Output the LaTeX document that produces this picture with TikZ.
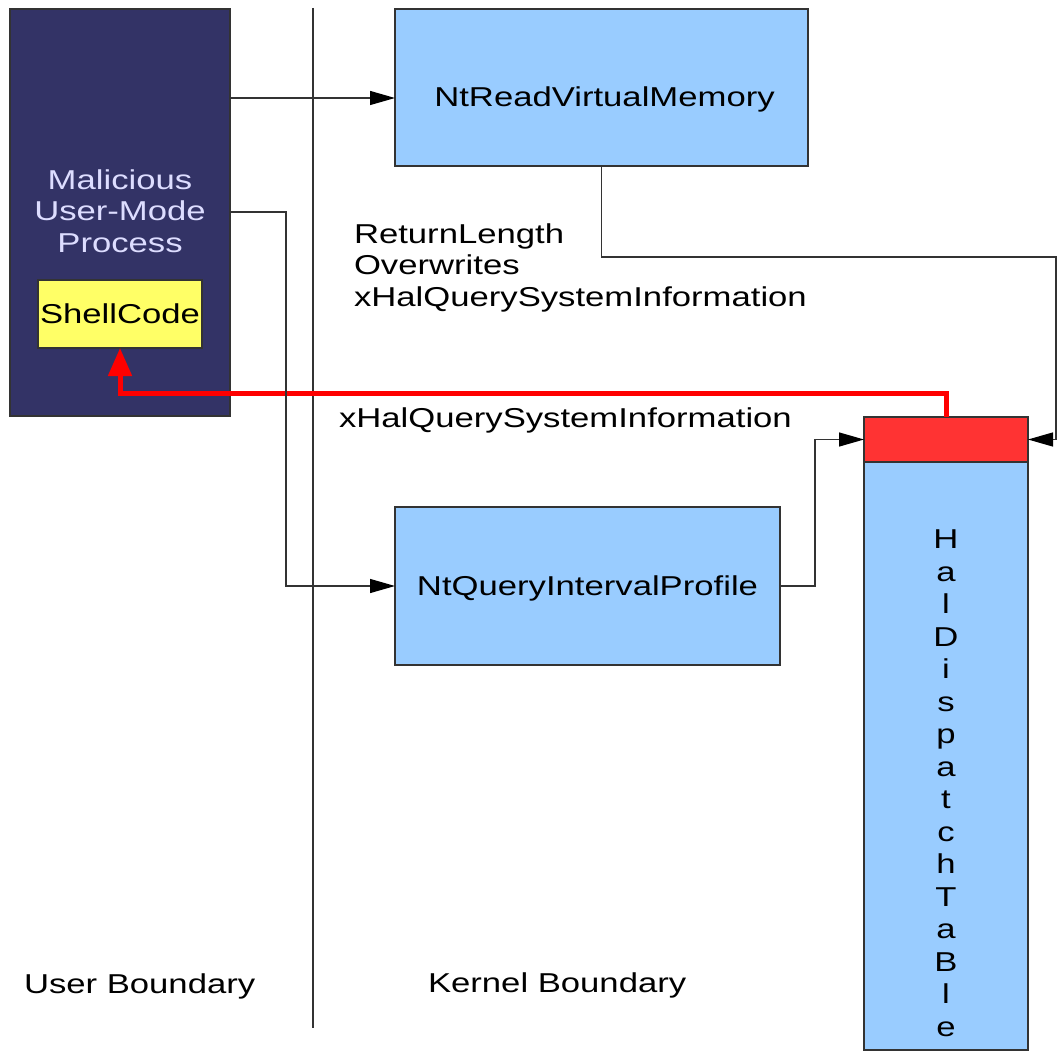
\documentclass[tikz,border=0pt]{standalone}
\usepackage{fontspec}
\setmainfont[FakeStretch=1.27]{Liberation Sans}
\usetikzlibrary{arrows.meta}
\definecolor{navy}{HTML}{333366}
\definecolor{lav}{HTML}{DDDDFF}
\definecolor{lblue}{HTML}{99CCFF}
\definecolor{ylw}{HTML}{FFFF66}
\definecolor{redbox}{HTML}{FF3333}
\definecolor{linegray}{HTML}{333333}
\begin{document}
\begin{tikzpicture}[x=1pt,y=-1pt,
  font=\fontsize{27.3}{31.5}\selectfont,
  box/.style={draw=linegray, line width=1.3pt, rectangle, inner sep=0pt, outer sep=0pt},
  conn/.style={draw=linegray, line width=1.3pt, -{Triangle[length=25pt,width=14pt,black]}},
  hack/.style={draw=red, line width=5pt, -{Triangle[length=28pt,width=23pt]}},
  lbl/.style={inner sep=0pt, outer sep=0pt}]
\fill[white] (0,0) rectangle (1064,1056);
\useasboundingbox (0,0) rectangle (1064,1056);
% boundary line
\draw[linegray, line width=1.3pt] (313,8) -- (313,1028);
% boxes
\node[box, fill=navy, minimum width=220, minimum height=407] (mal) at (120,212.5) {};
\node[lbl, text=lav, align=center, anchor=north] (maltext) at (120,169.5) {Malicious\\User-Mode\\Process};
\node[box, fill=ylw, minimum width=164, minimum height=68] (shell) at (120,314) {ShellCode};
\node[box, fill=lblue, minimum width=413, minimum height=157, text height=39pt, text depth=0pt] (ntread) at (601.5,87.5) {\hspace*{6pt}NtReadVirtualMemory};
\node[box, fill=lblue, minimum width=385, minimum height=158, text height=18pt, text depth=0pt] (ntquery) at (587.5,586) {NtQueryIntervalProfile};
\node[box, fill=lblue, minimum width=164, minimum height=588] (tab) at (946,756) {};
\node[box, fill=redbox, minimum width=164, minimum height=45] (tabtop) at (946,439.5) {};
\node[lbl, align=center, anchor=north, font=\fontsize{27.3}{32.5}\selectfont] (tabtext) at (946,530)
  {H\\a\\l\\D\\i\\s\\p\\a\\t\\c\\h\\T\\a\\B\\l\\e};
% texts
\node[lbl, align=left, anchor=north west] (note1) at (354,223.5)
  {ReturnLength\\Overwrites\\xHalQuerySystemInformation};
\node[lbl, anchor=base west] (note2) at (339,427) {xHalQuerySystemInformation};
\node[lbl, anchor=base west] (ub) at (24,993) {User Boundary};
\node[lbl, anchor=base west] (kb) at (428,992) {Kernel Boundary};
% red path
\draw[hack] (tabtop.north) -- ++(0,-24) -| (shell.south);
% connectors
\draw[conn] (mal.east |- 0,98) -- (ntread.west |- 0,98);
\draw[conn] (mal.east |- 0,212) -- ++(56,0) |- (ntquery.west);
\draw[conn] (ntread.south) |- (1056,257) |- (tabtop.east);
\draw[conn] (ntquery.east) -- ++(35,0) |- (tabtop.west);
\end{tikzpicture}
\end{document}
